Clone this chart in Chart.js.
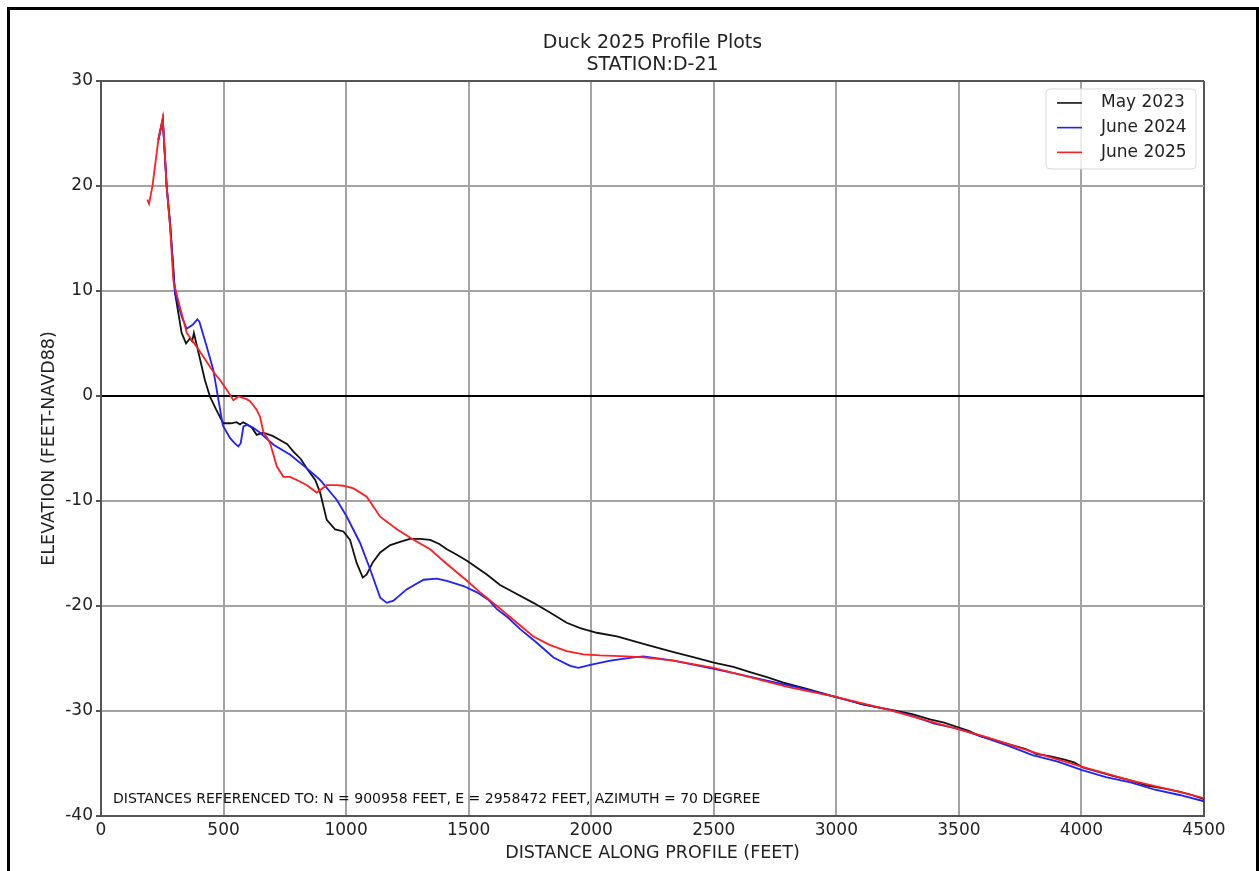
<!DOCTYPE html>
<html>
<head>
<meta charset="utf-8">
<title>Duck 2025 Profile Plots</title>
<script src="https://cdn.jsdelivr.net/npm/chart.js@4.4.1/dist/chart.umd.min.js"></script>
<style>
    html, body { margin: 0; padding: 0; background: #fff; }
    .frame {
        position: absolute; left: 7px; top: 7px; width: 1246px; height: 900px;
        border: 3px solid #000; border-bottom: none;
    }
    #profileChart { position: absolute; left: 0; top: 0; }
</style>
</head>
<body>
<div class="frame"></div>
<canvas id="profileChart" width="1259" height="871"></canvas>
<script>
// survey profiles, distance along profile (ft) / elevation (ft NAVD88)
const may2023Dist = [234, 252, 268, 282, 302, 329, 347, 363, 372, 379, 390, 424, 445, 470, 499, 530, 553, 567, 580, 595, 615, 635, 662, 700, 730, 760, 785, 815, 840, 874, 894, 921, 955, 989, 1016, 1043, 1068, 1084, 1110, 1139, 1180, 1220, 1260, 1302, 1343, 1380, 1411, 1450, 1493, 1574, 1628, 1683, 1764, 1830, 1900, 1955, 2023, 2105, 2213, 2336, 2420, 2500, 2580, 2648, 2720, 2784, 2880, 2988, 3050, 3110, 3180, 3246, 3310, 3382, 3440, 3491, 3540, 3587, 3650, 3723, 3770, 3818, 3870, 3927, 3970, 4008, 4070, 4131, 4200, 4267, 4340, 4403, 4450, 4500];
const may2023Elev = [24.4, 26.3, 19.9, 16.5, 9.8, 6.0, 5.0, 5.5, 5.2, 6.0, 4.9, 1.5, -0.1, -1.3, -2.6, -2.6, -2.5, -2.7, -2.5, -2.7, -3.0, -3.7, -3.5, -3.8, -4.2, -4.6, -5.3, -6.0, -6.9, -8.0, -9.2, -11.8, -12.7, -12.9, -13.7, -15.9, -17.3, -17.0, -15.8, -14.9, -14.2, -13.9, -13.6, -13.6, -13.7, -14.1, -14.6, -15.1, -15.7, -17.0, -18.0, -18.7, -19.7, -20.6, -21.6, -22.1, -22.55, -22.9, -23.6, -24.4, -24.9, -25.4, -25.8, -26.3, -26.8, -27.3, -27.9, -28.6, -29.0, -29.4, -29.7, -30.0, -30.3, -30.8, -31.1, -31.5, -31.9, -32.4, -32.8, -33.3, -33.6, -34.1, -34.3, -34.6, -34.9, -35.4, -35.8, -36.2, -36.6, -37.1, -37.4, -37.7, -38.0, -38.4];

const june2024Dist = [234, 252, 268, 282, 302, 330, 350, 375, 393, 401, 430, 458, 497, 526, 545, 560, 570, 581, 595, 620, 649, 704, 772, 840, 894, 962, 1003, 1057, 1098, 1139, 1166, 1193, 1248, 1316, 1370, 1411, 1479, 1534, 1580, 1615, 1660, 1710, 1778, 1846, 1914, 1948, 1996, 2078, 2173, 2213, 2336, 2420, 2500, 2600, 2717, 2850, 2988, 3100, 3200, 3300, 3400, 3500, 3600, 3700, 3800, 3900, 4000, 4100, 4200, 4300, 4400, 4500];
const june2024Elev = [24.4, 26.4, 19.9, 16.2, 9.8, 7.5, 6.4, 6.8, 7.3, 7.1, 4.8, 2.5, -2.8, -4.0, -4.5, -4.8, -4.5, -2.9, -2.75, -3.0, -3.5, -4.65, -5.6, -6.9, -8.0, -9.9, -11.5, -14.0, -16.5, -19.2, -19.7, -19.5, -18.4, -17.5, -17.4, -17.6, -18.1, -18.7, -19.4, -20.3, -21.1, -22.2, -23.5, -24.9, -25.7, -25.9, -25.6, -25.2, -24.9, -24.8, -25.2, -25.6, -26.0, -26.5, -27.1, -27.8, -28.6, -29.3, -29.8, -30.4, -31.2, -31.7, -32.5, -33.3, -34.2, -34.8, -35.6, -36.3, -36.8, -37.5, -38.0, -38.6];

const june2025Dist = [189, 196, 210, 234, 252, 268, 282, 295, 315, 350, 390, 458, 486, 513, 540, 560, 594, 608, 635, 649, 662, 676, 690, 717, 744, 771, 799, 840, 880, 921, 960, 989, 1030, 1084, 1139, 1207, 1275, 1343, 1411, 1493, 1547, 1615, 1697, 1764, 1830, 1900, 1968, 2036, 2145, 2213, 2336, 2500, 2650, 2800, 2988, 3200, 3400, 3600, 3800, 4000, 4200, 4400, 4500];
const june2025Elev = [18.7, 18.3, 20.0, 24.4, 26.5, 19.9, 16.1, 11.0, 9.1, 6.0, 4.7, 2.3, 1.5, 0.6, -0.4, -0.05, -0.3, -0.5, -1.3, -2.0, -3.4, -3.9, -4.5, -6.7, -7.7, -7.7, -8.0, -8.5, -9.2, -8.5, -8.5, -8.55, -8.8, -9.6, -11.5, -12.7, -13.7, -14.6, -16.0, -17.6, -18.7, -20.0, -21.6, -22.9, -23.7, -24.3, -24.6, -24.7, -24.8, -24.9, -25.2, -25.9, -26.8, -27.7, -28.6, -29.8, -31.1, -32.4, -33.9, -35.3, -36.6, -37.7, -38.3];

const seriesLabels = ["May 2023", "June 2024", "June 2025"];
const seriesColors = ["#111111", "#1f1fff", "#ff1f1f"];

const referenceNote = "DISTANCES REFERENCED TO: N = 900958 FEET, E = 2958472 FEET, AZIMUTH = 70 DEGREE";
const FONT = "'DejaVu Sans', Verdana, sans-serif";

function toPoints(dist, elev) {
    return dist.map((x, i) => ({ x: x, y: elev[i] }));
}

function makeDataset(i, dist, elev) {
    return {
        label: seriesLabels[i],
        data: toPoints(dist, elev),
        borderColor: seriesColors[i],
        backgroundColor: seriesColors[i],
        borderWidth: 1.8,
        pointRadius: 0,
        tension: 0,
        order: 3 - i, // later surveys drawn on top
    };
}

// reference note + boxed legend inside the plot
const overlayPlugin = {
    id: "overlay",
    afterDraw(chart) {
        const { ctx, chartArea } = chart;
        ctx.save();
        ctx.font = "14px " + FONT;
        ctx.fillStyle = "#111";
        ctx.textBaseline = "middle";
        ctx.textAlign = "left";
        ctx.fillText(referenceNote, chartArea.left + 12, chartArea.bottom - 17);

        const bx = chartArea.right - 158, by = chartArea.top + 8, bw = 150, bh = 80;
        ctx.beginPath();
        ctx.roundRect(bx, by, bw, bh, 4);
        ctx.fillStyle = "rgba(255,255,255,0.8)";
        ctx.fill();
        ctx.strokeStyle = "#d9d9d9";
        ctx.lineWidth = 1;
        ctx.stroke();

        ctx.font = "17px " + FONT;
        chart.data.datasets.forEach((ds, i) => {
            const y = by + 14 + i * 24.7;
            ctx.beginPath();
            ctx.moveTo(bx + 11, y);
            ctx.lineTo(bx + 36, y);
            ctx.strokeStyle = ds.borderColor;
            ctx.lineWidth = 1.6;
            ctx.stroke();
            ctx.fillStyle = "#222";
            ctx.fillText(ds.label, bx + 55, y);
        });
        ctx.restore();
    },
};

const ctx = document.getElementById("profileChart");

new Chart(ctx, {
    type: "line",
    data: {
        datasets: [
            makeDataset(0, may2023Dist, may2023Elev),
            makeDataset(1, june2024Dist, june2024Elev),
            makeDataset(2, june2025Dist, june2025Elev),
        ],
    },
    options: {
        responsive: false,
        animation: false,
        layout: {
            padding: { left: 0, top: 0, right: 55, bottom: 0 },
        },
        plugins: {
            legend: { display: false },
            tooltip: { enabled: false },
            title: {
                display: true,
                fullSize: false,
                text: ["Duck 2025 Profile Plots", "STATION:D-21"],
                color: "#222",
                font: { family: FONT, size: 19, weight: "normal", lineHeight: 1.13 },
                padding: { top: 32.5, bottom: 5.5 },
            },
        },
        scales: {
            x: {
                type: "linear",
                min: 0,
                max: 4500,
                afterFit: (scale) => { scale.height = 55; },
                ticks: {
                    stepSize: 500,
                    padding: 4,
                    maxRotation: 0,
                    color: "#222",
                    font: { family: FONT, size: 17 },
                    callback: (v) => String(v),
                },
                grid: {
                    drawTicks: false,
                    lineWidth: 2,
                    color: (c) => (c.tick && (c.tick.value === 4500) ? "#555" : "#a3a3a3"),
                },
                border: { display: true, color: "#555", width: 2 },
                title: {
                    display: true,
                    text: "DISTANCE ALONG PROFILE (FEET)",
                    color: "#222",
                    font: { family: FONT, size: 17.5 },
                    padding: { top: 0, bottom: 7.5 },
                },
            },
            y: {
                type: "linear",
                min: -40,
                max: 30,
                afterFit: (scale) => { scale.width = 101; },
                ticks: {
                    stepSize: 10,
                    padding: 3,
                    color: "#222",
                    font: { family: FONT, size: 17 },
                    callback: (v) => String(v),
                },
                grid: {
                    tickLength: 5,
                    lineWidth: 2,
                    tickColor: "#555",
                    color: (c) => {
                        if (!c.tick) return "#a3a3a3";
                        if (c.tick.value === 0) return "#000";
                        if (c.tick.value === 30) return "#555";
                        return "#a3a3a3";
                    },
                },
                border: { display: true, color: "#555", width: 2 },
                title: {
                    display: true,
                    text: "ELEVATION (FEET-NAVD88)",
                    color: "#222",
                    font: { family: FONT, size: 17.5 },
                    padding: { top: 38.5, bottom: 0 },
                },
            },
        },
    },
    plugins: [overlayPlugin],
});
</script>
</body>
</html>
